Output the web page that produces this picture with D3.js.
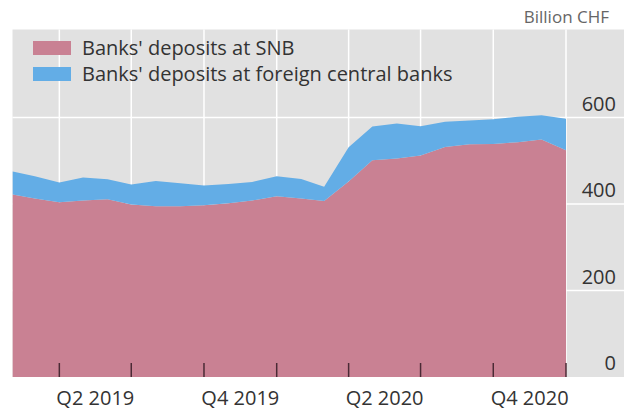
<!DOCTYPE html>
<html>
<head>
<meta charset="utf-8">
<script src="https://cdn.jsdelivr.net/npm/d3@7"></script>
<style>
  html, body { margin: 0; padding: 0; background: #ffffff; }
  svg { display: block; font-family: "Open Sans", "Noto Sans", sans-serif; }
</style>
</head>
<body>
<svg id="chart" width="624" height="412"></svg>
<script>
// Month-end observations, Jan 2019 .. Dec 2020 (billion CHF)
const months = ["2019-01","2019-02","2019-03","2019-04","2019-05","2019-06","2019-07","2019-08","2019-09","2019-10","2019-11","2019-12",
                "2020-01","2020-02","2020-03","2020-04","2020-05","2020-06","2020-07","2020-08","2020-09","2020-10","2020-11","2020-12"];
const depositsSNB = [422, 413, 404, 408, 411, 399, 395, 395, 397, 402, 408, 418,
                     413, 407, 452, 501, 505, 512, 532, 538, 539, 543, 549, 524];
const depositsForeign = [53, 51, 46, 53, 46, 46, 58, 53, 46, 44, 43, 46,
                         45, 33, 79, 78, 81, 68, 58, 55, 57, 59, 56, 73];
const seriesNames = ["Banks' deposits at SNB", "Banks' deposits at foreign central banks"];
const yTicks = [0, 200, 400, 600];
const quarterLabels = [
  { label: "Q2 2019", start: "2019-04-01" },
  { label: "Q4 2019", start: "2019-10-01" },
  { label: "Q2 2020", start: "2020-04-01" },
  { label: "Q4 2020", start: "2020-10-01" }
];
const unitLabel = "Billion CHF";

const colors = { snb: "#c98193", foreign: "#63ade6", bg: "#e1e1e1", grid: "#ffffff", text: "#333333", tick: "#4a2a35" };

const svg = d3.select("#chart");
const W = 624;
const plot = { left: 12.5, right: 624, top: 29.5, bottom: 377 };
const parseMonth = d3.timeParse("%Y-%m");
// month-end value plotted at the start of the following month
const dates = months.map(m => d3.timeMonth.offset(parseMonth(m), 1));

const data = months.map((m, i) => ({ date: dates[i], snb: depositsSNB[i], foreign: depositsForeign[i] }));
const stack = d3.stack().keys(["snb", "foreign"]);
const stacked = stack(data);

const x = d3.scaleTime().domain([dates[0], dates[dates.length - 1]]).range([12.7, 566]);
const y = d3.scaleLinear().domain([0, 600]).range([377, 117.5]);

// background
svg.append("rect").attr("x", plot.left).attr("y", plot.top)
  .attr("width", plot.right - plot.left).attr("height", plot.bottom - plot.top)
  .attr("fill", colors.bg);

// quarter boundaries
const quarterStarts = d3.timeMonth.every(3).range(new Date(2019, 3, 1), new Date(2021, 0, 2));

// vertical gridlines
svg.append("g").selectAll("line").data(quarterStarts).join("line")
  .attr("x1", d => x(d)).attr("x2", d => x(d))
  .attr("y1", plot.top).attr("y2", plot.bottom)
  .attr("stroke", colors.grid).attr("stroke-width", 1.5);

// horizontal gridlines
svg.append("g").selectAll("line").data(yTicks.filter(v => v > 0)).join("line")
  .attr("x1", plot.left).attr("x2", plot.right)
  .attr("y1", d => y(d)).attr("y2", d => y(d))
  .attr("stroke", colors.grid).attr("stroke-width", 1.5);

// stacked areas
const area = d3.area().x(d => x(d.data.date)).y0(d => y(d[0])).y1(d => y(d[1]));
svg.append("g").selectAll("path").data(stacked).join("path")
  .attr("d", area)
  .attr("fill", (d, i) => i === 0 ? colors.snb : colors.foreign);

// x ticks (inside, at quarter boundaries)
svg.append("g").selectAll("line").data(quarterStarts).join("line")
  .attr("x1", d => x(d)).attr("x2", d => x(d))
  .attr("y1", 363).attr("y2", plot.bottom)
  .attr("stroke", colors.tick).attr("stroke-width", 1.5);

// x labels centred in their quarter
svg.append("g").selectAll("text").data(quarterLabels).join("text")
  .attr("x", d => {
    const s = d3.timeParse("%Y-%m-%d")(d.start);
    const e = d3.timeMonth.offset(s, 3);
    return (x(s) + x(e)) / 2;
  })
  .attr("y", 405)
  .attr("text-anchor", "middle")
  .attr("font-size", 20)
  .attr("fill", colors.text)
  .text(d => d.label);

// y labels on right, above gridlines
svg.append("g").selectAll("text").data(yTicks).join("text")
  .attr("x", 616).attr("y", d => y(d) - 7)
  .attr("text-anchor", "end")
  .attr("font-size", 20)
  .attr("fill", colors.text)
  .text(d => d);

// unit label
svg.append("text").attr("x", 609).attr("y", 23)
  .attr("text-anchor", "end").attr("font-size", 17)
  .attr("fill", "#666666").text(unitLabel);

// legend
const legend = svg.append("g");
seriesNames.forEach((name, i) => {
  const yy = 41 + i * 26;
  legend.append("rect").attr("x", 33).attr("y", yy).attr("width", 38).attr("height", 14)
    .attr("fill", i === 0 ? colors.snb : colors.foreign);
  legend.append("text").attr("x", 82).attr("y", yy + 14)
    .attr("font-size", 20).attr("fill", colors.text).text(name);
});
</script>
</body>
</html>
